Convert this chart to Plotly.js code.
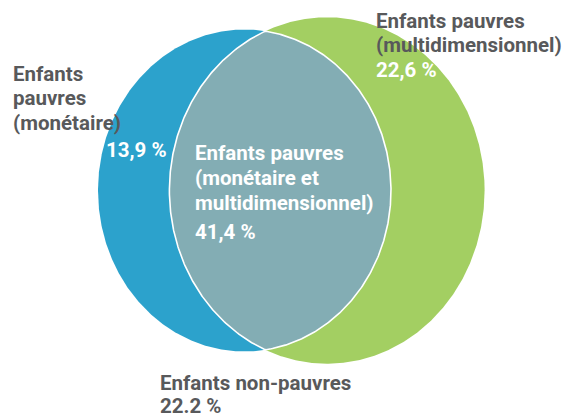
<!DOCTYPE html>
<html>
<head>
<meta charset="utf-8">
<script src="https://cdn.plot.ly/plotly-3.0.1.min.js"></script>
<style>html,body{margin:0;padding:0;background:#fff;}#chart{width:567px;height:418px;}</style>
</head>
<body>
<div id="chart"></div>
<script>
// ---- data ----
const categories = [
  'Enfants pauvres (monétaire)',
  'Enfants pauvres (multidimensionnel)',
  'Enfants pauvres (monétaire et multidimensionnel)',
  'Enfants non-pauvres'
];
const values = [13.9, 22.6, 41.4, 22.2];
const valueLabels = ['13,9 %', '22,6 %', '41,4 %', '22.2 %'];
const labelLines = [
  ['Enfants', 'pauvres', '(monétaire)'],
  ['Enfants pauvres', '(multidimensionnel)'],
  ['Enfants pauvres', '(monétaire et', 'multidimensionnel)'],
  ['Enfants non-pauvres']
];

// ---- geometry / style (layout, not data) ----
const FONT = 'Roboto, "DejaVu Sans Condensed", sans-serif';
const FS = 20.5;
const GRAY = '#58595b';
const BLUE = '#2ca2cc', GREEN = '#a3cf62', LENS = '#83adb4';
const kx = 19.7, ky = 21.65;      // px per sqrt(%)
const cy = 190.5;
const blueCx = 244.5, greenCx = 327;

const blueTotal = values[0] + values[2];
const greenTotal = values[1] + values[2];
const blueE = {cx: blueCx, cy: cy, rx: kx * Math.sqrt(blueTotal), ry: ky * Math.sqrt(blueTotal)};
const greenE = {cx: greenCx, cy: cy, rx: kx * Math.sqrt(greenTotal), ry: ky * Math.sqrt(greenTotal)};

function ellipsePts(e, n) {
  const xs = [], ys = [];
  for (let i = 0; i <= n; i++) {
    const t = 2 * Math.PI * i / n;
    xs.push(e.cx + e.rx * Math.cos(t));
    ys.push(e.cy + e.ry * Math.sin(t));
  }
  return {xs, ys};
}
function inside(e, x, y) {
  const dx = (x - e.cx) / e.rx, dy = (y - e.cy) / e.ry;
  return dx * dx + dy * dy <= 1.0000001;
}
const N = 720;
const bp = ellipsePts(blueE, N), gp = ellipsePts(greenE, N);
let lens = [];
for (let i = 0; i < bp.xs.length; i++) if (inside(greenE, bp.xs[i], bp.ys[i])) lens.push([bp.xs[i], bp.ys[i]]);
for (let i = 0; i < gp.xs.length; i++) if (inside(blueE, gp.xs[i], gp.ys[i])) lens.push([gp.xs[i], gp.ys[i]]);
let lcx = 0, lcy = 0;
lens.forEach(p => { lcx += p[0]; lcy += p[1]; });
lcx /= lens.length; lcy /= lens.length;
lens.sort((a, b) => Math.atan2(a[1] - lcy, a[0] - lcx) - Math.atan2(b[1] - lcy, b[0] - lcx));
lens.push(lens[0]);

const traces = [
  {x: gp.xs, y: gp.ys, type: 'scatter', mode: 'lines', fill: 'toself', fillcolor: GREEN, line: {width: 0, color: GREEN}, hoverinfo: 'skip', name: categories[1]},
  {x: bp.xs, y: bp.ys, type: 'scatter', mode: 'lines', fill: 'toself', fillcolor: BLUE, line: {width: 0, color: BLUE}, hoverinfo: 'skip', name: categories[0]},
  {x: lens.map(p => p[0]), y: lens.map(p => p[1]), type: 'scatter', mode: 'lines', fill: 'toself', fillcolor: LENS, line: {width: 1.6, color: '#ffffff'}, hoverinfo: 'skip', name: categories[2]}
];

function ann(x, y, text, color) {
  return {x: x, y: y, xref: 'x', yref: 'y', xanchor: 'left', yanchor: 'middle', align: 'left',
    text: text, showarrow: false, font: {family: FONT, size: FS, color: color}, borderpad: 0};
}
const annotations = [];
// left: monetary
labelLines[0].forEach((t, i) => annotations.push(ann(12, 73.5 + 24.5 * i, '<b>' + t + '</b>', GRAY)));
annotations.push(ann(105, 150, '<b>' + valueLabels[0] + '</b>', '#ffffff'));
// top right: multidimensional
labelLines[1].forEach((t, i) => annotations.push(ann(375, 20.5 + 24.5 * i, '<b>' + t + '</b>', GRAY)));
annotations.push(ann(375, 70, '<b>' + valueLabels[1] + '</b>', '#ffffff'));
// centre: both
labelLines[2].forEach((t, i) => annotations.push(ann(194, 153 + 25 * i, '<b>' + t + '</b>', '#ffffff')));
annotations.push(ann(194, 232, '<b>' + valueLabels[2] + '</b>', '#ffffff'));
// bottom: non-poor
labelLines[3].forEach((t, i) => annotations.push(ann(159, 382.5 + 24.5 * i, '<b>' + t + '</b>', GRAY)));
annotations.push(ann(159, 406, '<b>' + valueLabels[3] + '</b>', GRAY));

const layout = {
  width: 567, height: 418,
  margin: {l: 0, r: 0, t: 0, b: 0, pad: 0},
  paper_bgcolor: '#ffffff', plot_bgcolor: '#ffffff',
  showlegend: false,
  xaxis: {range: [0, 567], visible: false, fixedrange: true},
  yaxis: {range: [418, 0], visible: false, fixedrange: true},
  annotations: annotations
};
Plotly.newPlot('chart', traces, layout, {staticPlot: true, displayModeBar: false});
</script>
</body>
</html>
